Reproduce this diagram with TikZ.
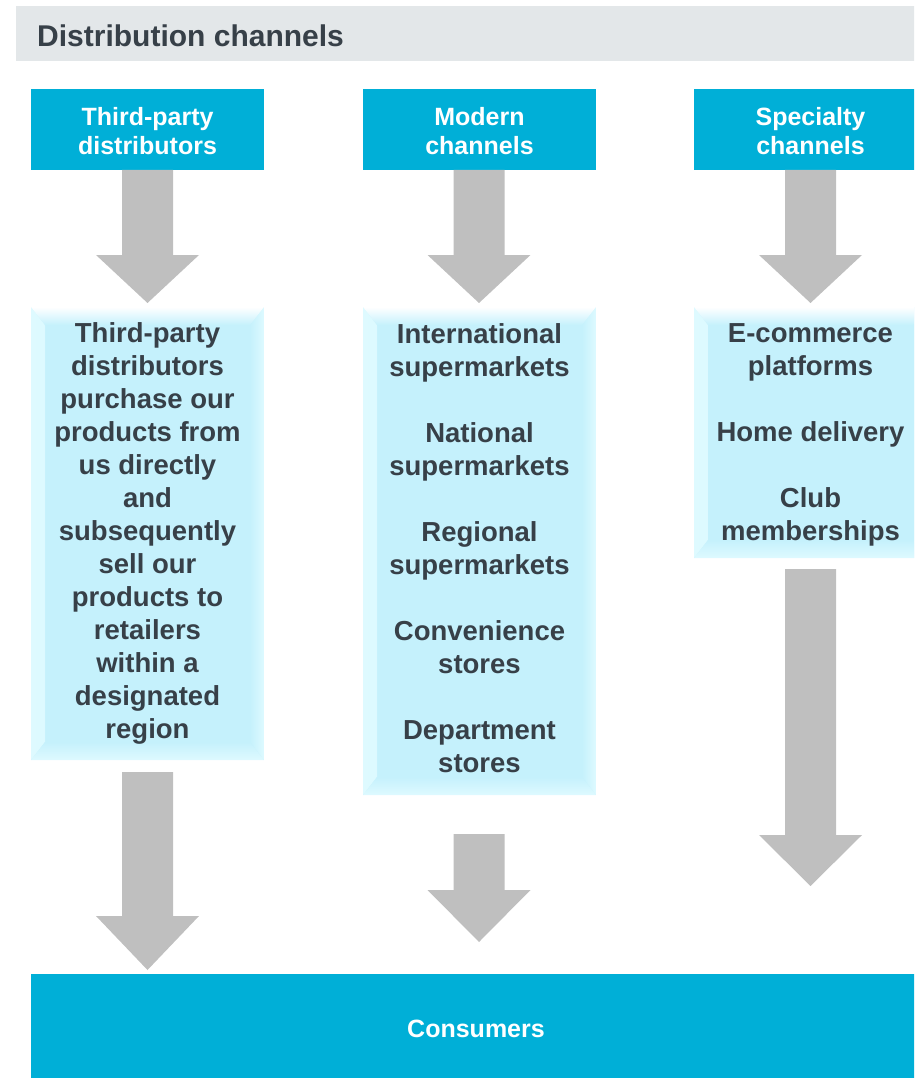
\documentclass[tikz,border=0pt]{standalone}
\usepackage{fontspec}
\setmainfont{Liberation Sans}
\definecolor{hdrblue}{RGB}{0,175,215}
\definecolor{titlegray}{RGB}{227,231,233}
\definecolor{arrowgray}{RGB}{191,191,191}
\definecolor{textdark}{RGB}{55,64,72}
\definecolor{midcyan}{RGB}{197,241,252}
\definecolor{midlight}{RGB}{210,246,254}
\definecolor{midedge}{RGB}{222,250,255}
\newcommand\blkarrow[4]{%
  \fill[arrowgray] ({#1-25.5},#2) -- ({#1+25.5},#2) -- ({#1+25.5},#3) -- ({#1+51.5},#3)
    -- (#1,#4) -- ({#1-51.5},#3) -- ({#1-25.5},#3) -- cycle;}
\tikzset{
  header/.style={fill=hdrblue, minimum width=233pt, minimum height=81pt, inner sep=0pt},
  headtext/.style={text=white, align=center, inner sep=0pt, font=\fontsize{25}{29}\selectfont\bfseries},
  midtext/.style={text=textdark, inner sep=0pt, align=center,
    font=\fontsize{27.5}{33}\selectfont\bfseries},
  midbox/.style={fill=midcyan, minimum width=233pt, inner sep=0pt,
    path picture={
      \shade[left color=midedge, right color=midcyan] (path picture bounding box.north west) -- ([xshift=14pt,yshift=-18pt]path picture bounding box.north west)
        -- ([xshift=14pt,yshift=18pt]path picture bounding box.south west) -- (path picture bounding box.south west) -- cycle;
      \shade[right color=midedge, left color=midcyan] (path picture bounding box.north east) -- ([xshift=-14pt,yshift=-18pt]path picture bounding box.north east)
        -- ([xshift=-14pt,yshift=18pt]path picture bounding box.south east) -- (path picture bounding box.south east) -- cycle;
      \shade[top color=white, bottom color=midcyan] (path picture bounding box.north west) -- (path picture bounding box.north east)
        -- ([xshift=-14pt,yshift=-18pt]path picture bounding box.north east) -- ([xshift=14pt,yshift=-18pt]path picture bounding box.north west) -- cycle;
      \shade[top color=midcyan, bottom color=midedge] ([xshift=14pt,yshift=18pt]path picture bounding box.south west)
        -- ([xshift=-14pt,yshift=18pt]path picture bounding box.south east) -- (path picture bounding box.south east)
        -- (path picture bounding box.south west) -- cycle;
    }},
}
\begin{document}
\begin{tikzpicture}[x=1pt,y=-1pt]
\useasboundingbox (0,0) rectangle (914,1078);
\clip (0,0) rectangle (914,1078);
% title bar
\fill[titlegray] (16,6) rectangle (930,61);
\node[anchor=west, text=textdark, inner sep=0pt, font=\fontsize{30}{34}\selectfont\bfseries] (title) at (37,36) {Distribution channels};
% headers
\node[header] (h1) at (147.5,129.5) {};
\node[header] (h2) at (479.5,129.5) {};
\node[header] (h3) at (810.5,129.5) {};
\node[headtext] (h1t) at (147.5,131.5) {Third-party\\distributors};
\node[headtext] (h2t) at (479.5,131.5) {Modern\\channels};
\node[headtext] (h3t) at (810.5,131.5) {Specialty\\channels};
% top arrows
\blkarrow{147.5}{170}{255}{303}
\blkarrow{479}{170}{255}{303}
\blkarrow{810.5}{170}{255}{303}
% middle boxes
\node[midbox, minimum height=453pt] (m1) at (147.5,533.5) {};
\node[midbox, minimum height=488pt] (m2) at (479.5,551) {};
\node[midbox, minimum height=251pt] (m3) at (810.5,432.5) {};
\node[midtext] (m1t) at (147.5,533.5) {Third-party\\distributors\\purchase our\\products from\\us directly\\and\\subsequently\\sell our\\products to\\retailers\\within a\\designated\\region};
\node[midtext] (m2t) at (479.5,548) {International\\supermarkets\\[33pt]National\\supermarkets\\[33pt]Regional\\supermarkets\\[33pt]Convenience\\stores\\[33pt]Department\\stores};
\node[midtext] (m3t) at (810.5,434.5) {E-commerce\\platforms\\[33pt]Home delivery\\[33pt]Club\\memberships};
% lower arrows
\blkarrow{147.5}{772}{916}{970}
\blkarrow{479}{834}{890}{942}
\blkarrow{810.5}{569}{835}{886}
% consumers
\node[fill=hdrblue, text=white, minimum width=890pt, minimum height=110pt, inner sep=0pt,
  font=\fontsize{25}{29}\selectfont\bfseries] (cons) at (476,1029) {Consumers};
\end{tikzpicture}
\end{document}
